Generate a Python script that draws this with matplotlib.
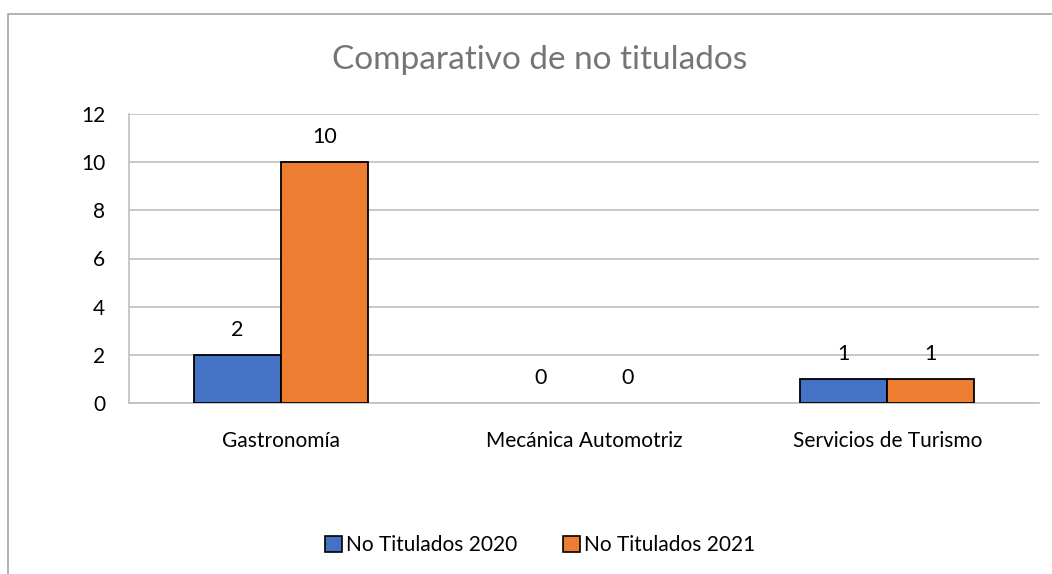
import numpy as np
import matplotlib.pyplot as plt
from matplotlib.patches import Rectangle

plt.rcParams['font.family'] = ['Lato', 'DejaVu Sans']

categories = ["Gastronomía", "Mecánica Automotriz", "Servicios de Turismo"]
series_names = ["No Titulados 2020", "No Titulados 2021"]
titulados_2020 = [2, 0, 1]
titulados_2021 = [10, 0, 1]
colors = ["#4472C4", "#ED7D31"]

W, H = 1052, 574
fig = plt.figure(figsize=(W / 100, H / 100), dpi=100)
ax = fig.add_axes([129 / W, 1 - 403 / H, (1039 - 129) / W, (403 - 114) / H])

# outer chart frame (extends past the right and bottom edges)
fig.patches.append(Rectangle((8 / W, -0.1), 1.2, 1 - 14 / H + 0.1,
                             transform=fig.transFigure, fill=False,
                             edgecolor="#A6A6A6", linewidth=1.2))

x = np.arange(len(categories))
width = 0.287
for i, (vals, name) in enumerate(zip([titulados_2020, titulados_2021], series_names)):
    pos = x + (i - 0.5) * width
    bars = ax.bar(pos, vals, width, color=colors[i], edgecolor="black",
                  linewidth=1.3, label=name, zorder=3)
    for b, v in zip(bars, vals):
        if v == 0:
            b.set_linewidth(0)
        ax.annotate(str(v), (b.get_x() + b.get_width() / 2, v),
                    xytext=(0, 11), textcoords="offset points",
                    ha="center", va="bottom", fontsize=15.5, color="#000000")

ax.set_xlim(-0.5, len(categories) - 0.5)
ax.set_ylim(0, 12)
ax.set_yticks(range(0, 13, 2))
ax.yaxis.grid(True, color="#BFBFBF", linewidth=1.2, zorder=0)
ax.set_xticks(x)
ax.set_xticklabels(categories)
ax.tick_params(axis="both", length=0, labelsize=15, colors="#000000")
ax.tick_params(axis="x", pad=20)
ax.tick_params(axis="y", pad=17)

for s in ["top", "right"]:
    ax.spines[s].set_visible(False)
ax.spines["left"].set_color("#BFBFBF")
ax.spines["bottom"].set_color("#BFBFBF")
ax.spines["left"].set_linewidth(1.2)
ax.spines["bottom"].set_linewidth(1.2)

fig.text(540 / W, 1 - 60 / H, "Comparativo de no titulados", ha="center",
         va="center", fontsize=24, color="#757575")

leg = fig.legend(loc="center", bbox_to_anchor=(540 / W, 1 - 545 / H), ncol=2,
                 frameon=False, fontsize=15, handlelength=0.8, handleheight=0.8,
                 handletextpad=0.2, columnspacing=2.2)
for h in leg.legend_handles:
    h.set_linewidth(1.2)

fig.savefig("out.png", dpi=100)
